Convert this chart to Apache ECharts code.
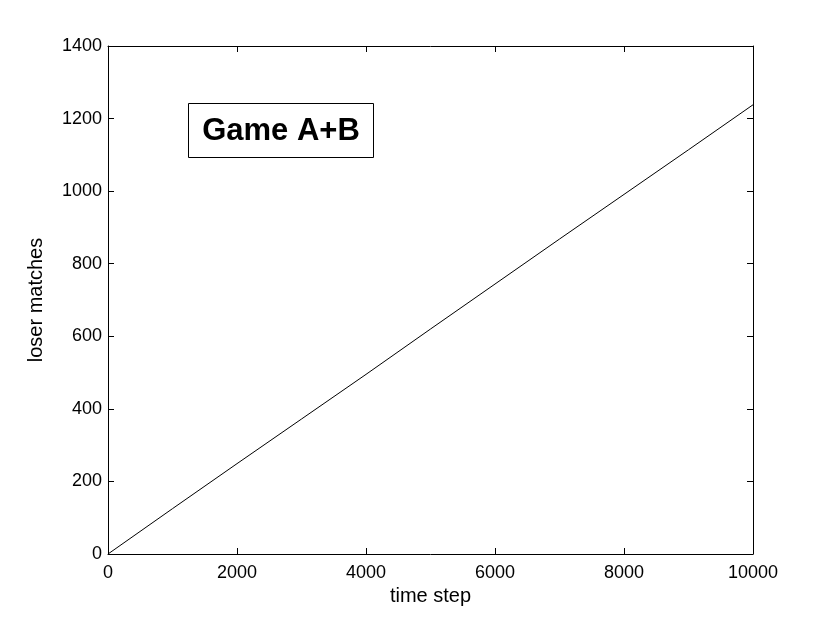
<!DOCTYPE html>
<html>
<head>
<meta charset="utf-8">
<script src="https://cdn.jsdelivr.net/npm/echarts@6/dist/echarts.min.js"></script>
<style>
  html, body { margin: 0; padding: 0; background: #fff; }
  #chart { width: 830px; height: 624px; }
</style>
</head>
<body>
<div id="chart"></div>
<script>
// values
var timeSteps = [0, 1000, 2000, 3000, 4000, 5000, 6000, 7000, 8000, 9000, 10000];
var loserMatches = [0, 125, 249, 372, 495, 620, 744, 868, 991, 1114, 1238];
var xTicks = [0, 2000, 4000, 6000, 8000, 10000];
var yTicks = [0, 200, 400, 600, 800, 1000, 1200, 1400];

var font = 'Liberation Sans, Arial, Helvetica, sans-serif';
var chart = echarts.init(document.getElementById('chart'));

var points = timeSteps.map(function (t, i) { return [t, loserMatches[i]]; });

function axisBase(show) {
  return {
    type: 'value',
    axisLine: { show: true, onZero: false, lineStyle: { color: '#000', width: 1 } },
    axisTick: { show: true, inside: true, length: 6, lineStyle: { color: '#000' } },
    splitLine: { show: false },
    axisLabel: {
      show: show, color: '#000', fontSize: 18, fontFamily: font,
      formatter: function (v) { return String(v); }
    }
  };
}

var xMin = xTicks[0], xMax = xTicks[xTicks.length - 1], xStep = xTicks[1] - xTicks[0];
var yMin = yTicks[0], yMax = yTicks[yTicks.length - 1], yStep = yTicks[1] - yTicks[0];

var xBottom = Object.assign(axisBase(true), {
  min: xMin, max: xMax, interval: xStep, position: 'bottom',
  name: 'time step', nameLocation: 'middle', nameGap: 32,
  nameTextStyle: { color: '#000', fontSize: 20, fontFamily: font }
});
xBottom.axisLabel.margin = 10;
var xTop = Object.assign(axisBase(false), { min: xMin, max: xMax, interval: xStep, position: 'top' });

var yLeft = Object.assign(axisBase(true), {
  min: yMin, max: yMax, interval: yStep, position: 'left',
  name: 'loser matches', nameLocation: 'middle', nameGap: 62,
  nameTextStyle: { color: '#000', fontSize: 20, fontFamily: font }
});
yLeft.axisLabel.margin = 6;
var yRight = Object.assign(axisBase(false), { min: yMin, max: yMax, interval: yStep, position: 'right' });

chart.setOption({
  animation: false,
  backgroundColor: '#fff',
  grid: { left: 108, right: 77, top: 46, bottom: 70 },
  xAxis: [xBottom, xTop],
  yAxis: [yLeft, yRight],
  graphic: [{
    type: 'group',
    left: 188, top: 103,
    children: [
      { type: 'rect', shape: { x: 0, y: 0, width: 185, height: 54 },
        style: { fill: '#fff', stroke: '#000', lineWidth: 1 } },
      { type: 'text', x: 92.5, y: 28,
        style: { text: 'Game A+B', fill: '#000', font: 'bold 31px ' + font,
                 textAlign: 'center', textVerticalAlign: 'middle' } }
    ]
  }],
  series: [{
    type: 'line',
    data: points,
    showSymbol: false,
    lineStyle: { color: '#000', width: 1 }
  }]
});
</script>
</body>
</html>
